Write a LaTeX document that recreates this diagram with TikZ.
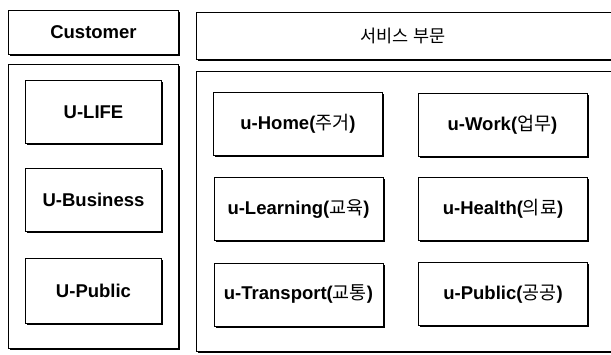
\documentclass[tikz,border=0pt]{standalone}
\usepackage{fontspec}
\setmainfont{Liberation Sans}
\newfontfamily\kr{Noto Sans CJK KR}
\usetikzlibrary{shadows}
\tikzset{
  box/.style={draw=black, line width=0.8pt, fill=white,
    drop shadow={shadow xshift=1.8bp, shadow yshift=-1.8bp, fill=black, opacity=1},
    font=\fontsize{18.5bp}{22bp}\selectfont\bfseries, inner sep=0pt},
  leftbox/.style={box, minimum width=136bp, minimum height=63bp},
  rightbox/.style={box, minimum width=169bp, minimum height=63bp},
  plain/.style={font=\fontsize{17.5bp}{20bp}\selectfont\kr, inner sep=0pt}
}
\begin{document}
\begin{tikzpicture}[x=1bp, y=-1bp]
\useasboundingbox (0,0) rectangle (611,354);
\clip (0,0) rectangle (611,354);
\fill[white] (0,0) rectangle (611,354);
% left column
\node[box, minimum width=170bp, minimum height=44bp] (cust) at (93.5,32) {Customer};
\node[box, minimum width=170bp, minimum height=284bp] (lcont) at (93.5,206.5) {};
\node[leftbox] (ulife) at (93.5,112) {U-LIFE};
\node[leftbox] (ubus) at (93.5,199.5) {U-Business};
\node[leftbox, minimum height=65bp] (upub) at (93.5,291) {U-Public};
% right column
\node[box, minimum width=440bp, minimum height=47bp] (hdr) at (416,35.5) {};
\node[plain] (hdrtxt) at (403,36) {서비스 부문};
\node[box, minimum width=440bp, minimum height=280bp] (rcont) at (416,211.5) {};
\node[rightbox] (home) at (298,124) {u-Home({\kr\mdseries 주거})};
\node[rightbox] (work) at (502.5,125) {u-Work({\kr\mdseries 업무})};
\node[rightbox] (learn) at (298.5,209) {u-Learning({\kr\mdseries 교육})};
\node[rightbox] (health) at (503,208.5) {u-Health({\kr\mdseries 의료})};
\node[rightbox] (trans) at (298.5,294.5) {u-Transport({\kr\mdseries 교통})};
\node[rightbox] (rpub) at (503,294) {u-Public({\kr\mdseries 공공})};
\end{tikzpicture}
\end{document}
